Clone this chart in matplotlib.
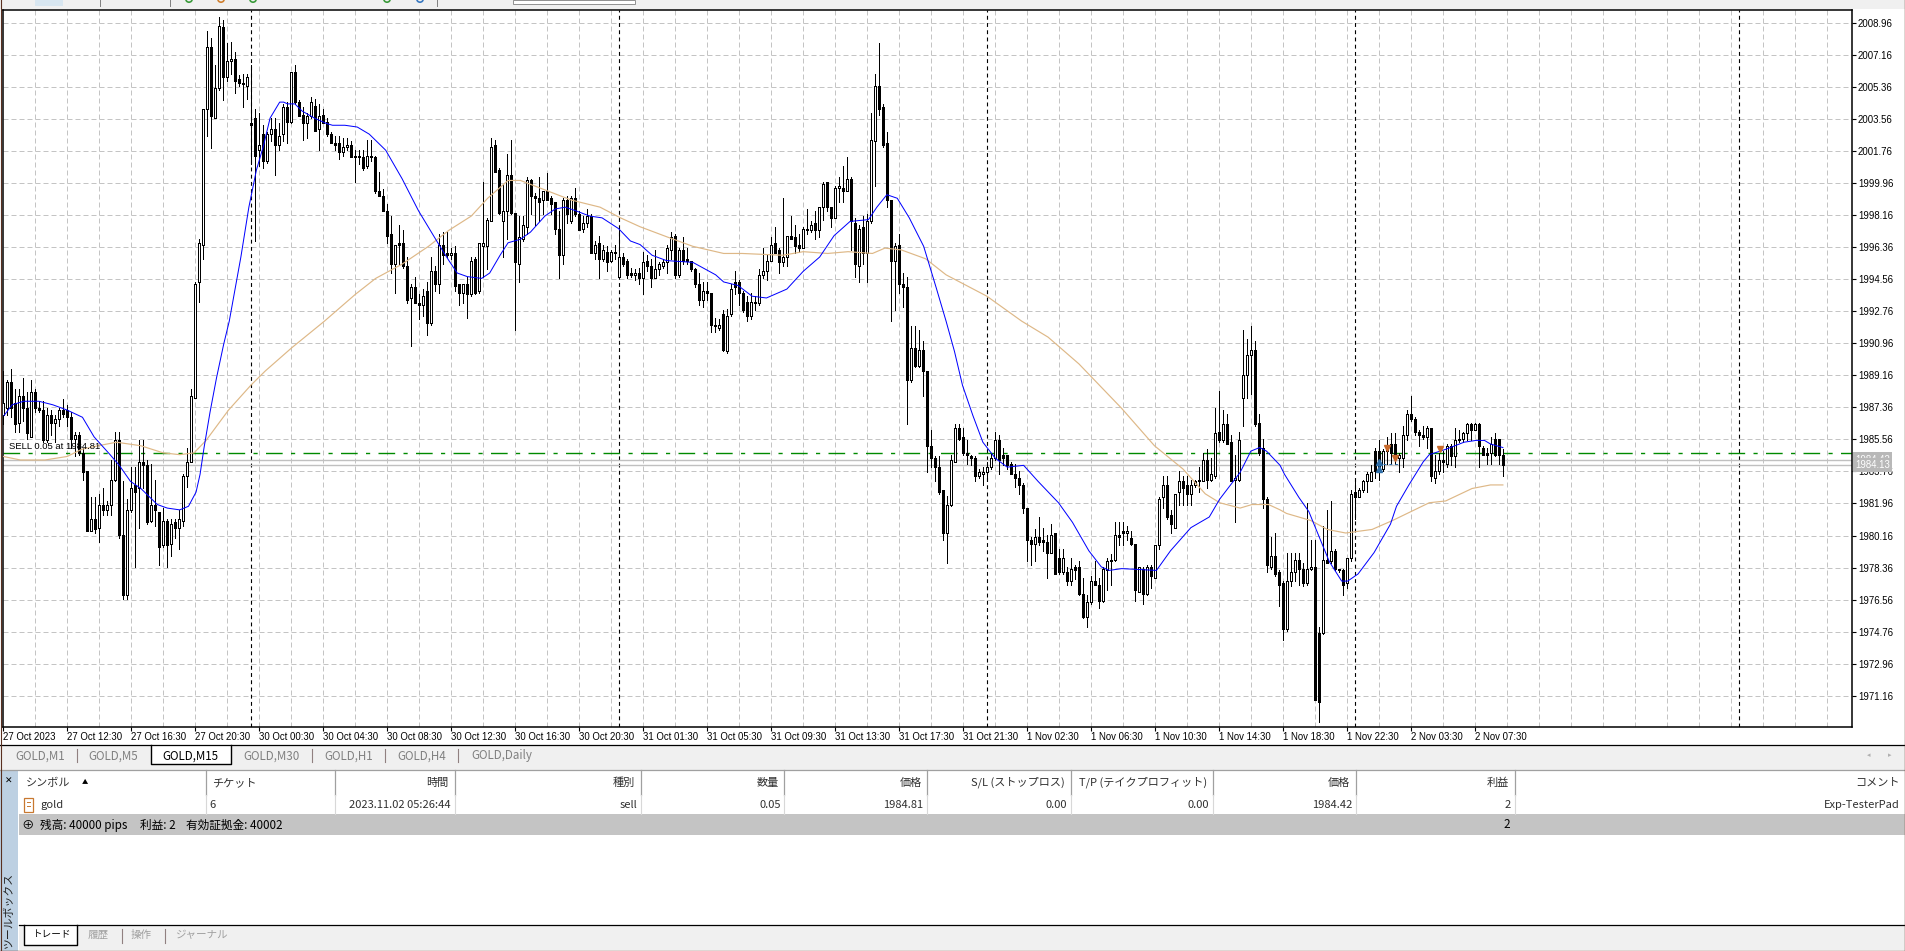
import numpy as np
import matplotlib
matplotlib.use("Agg")
import matplotlib.pyplot as plt
from matplotlib.patches import Rectangle, Circle

plt.rcParams['font.family'] = ['Noto Sans CJK JP', 'DejaVu Sans']

W, H = 1906, 951
CHART_L, CHART_R, CHART_T, CHART_B = 3, 1852, 10, 727

# M15 candles
opens = [
1986.9,1987.3,1988.8,1987.6,1986.5,1988.0,1987.3,1985.7,1988.2,1987.3,
1987.2,1985.5,1986.9,1986.5,1986.7,1987.2,1987.2,1986.8,1985.6,1985.8,
1984.8,1983.8,1980.4,1981.1,1980.6,1981.9,1981.6,1981.9,1983.3,1985.5,
1980.2,1976.8,1981.6,1983.0,1982.8,1984.3,1984.1,1981.0,1981.9,1981.5,
1979.6,1981.0,1979.7,1980.9,1980.6,1981.0,1983.5,1984.3,1987.9,1994.4,
1996.5,2004.1,2007.6,2003.6,2005.3,2008.7,2005.9,2006.8,2006.9,2005.8,
2005.6,2005.4,2003.3,2003.6,2001.8,2002.7,2001.2,2002.7,2003.0,2002.1,
2002.7,2004.2,2003.4,2006.2,2004.5,2003.8,2003.3,2003.7,2004.3,2003.0,
2003.8,2003.4,2002.7,2002.2,2002.2,2001.7,2002.0,2002.1,2001.5,2001.5,
2001.4,2000.9,2001.4,2001.4,1999.5,1999.2,1998.4,1997.1,1995.4,1996.6,
1996.6,1995.3,1993.5,1994.1,1993.2,1993.1,1993.9,1992.1,1995.0,1994.3,
1996.5,1996.0,1995.9,1996.0,1994.3,1993.8,1994.3,1993.7,1995.7,1993.9,
1996.4,1996.4,1997.8,2002.1,2000.7,1997.8,1998.4,2000.4,1998.3,1995.4,
1996.8,1997.5,2000.1,1999.2,1999.1,1999.0,1999.5,1999.1,1998.9,1997.4,
1995.9,1999.0,1997.8,1999.1,1998.2,1997.4,1997.7,1998.1,1996.0,1996.6,
1995.7,1996.1,1995.6,1996.1,1994.7,1995.8,1995.6,1994.9,1994.8,1994.9,
1994.6,1995.6,1995.3,1994.6,1995.1,1995.3,1995.5,1996.2,1997.0,1994.8,
1996.2,1995.7,1995.6,1995.1,1994.3,1993.4,1993.9,1993.8,1992.0,1991.8,
1992.6,1990.5,1992.6,1994.4,1994.4,1993.8,1993.3,1992.5,1993.3,1993.2,
1994.8,1995.0,1995.6,1996.6,1996.2,1995.5,1995.8,1997.0,1996.9,1996.5,
1996.3,1997.4,1997.3,1997.7,1997.3,1998.6,2000.0,1998.6,1998.0,1999.7,
1999.7,1999.5,2000.2,1997.7,1995.3,1997.5,1996.0,1997.8,2002.3,2005.4,
2004.2,2002.2,1999.0,1995.6,1996.5,1994.3,1994.1,1988.9,1990.7,1989.7,
1990.6,1989.4,1985.2,1984.5,1984.0,1982.7,1980.3,1981.9,1984.3,1986.2,
1985.7,1984.8,1984.6,1984.5,1983.5,1983.6,1983.7,1984.0,1984.5,1985.5,
1984.7,1984.7,1984.2,1983.6,1983.4,1983.0,1981.7,1979.9,1979.7,1980.1,
1979.9,1979.8,1979.2,1980.3,1978.9,1978.1,1978.1,1977.6,1978.4,1978.4,
1976.9,1975.6,1976.4,1977.6,1977.4,1976.5,1978.2,1978.7,1978.8,1980.2,
1980.4,1980.3,1980.0,1979.7,1977.0,1978.3,1976.9,1978.4,1977.8,1979.6,
1982.3,1983.0,1981.3,1980.6,1982.6,1983.2,1983.0,1982.5,1983.0,1983.3,
1983.2,1984.4,1983.3,1983.5,1986.0,1985.5,1986.4,1985.4,1983.3,1983.3,
1987.9,1989.2,1990.3,1990.6,1986.5,1985.1,1982.2,1978.4,1979.0,1978.1,
1977.5,1974.9,1977.6,1978.1,1978.8,1978.3,1977.5,1978.3,1978.4,1974.7,
1974.7,1978.8,1978.7,1979.3,1978.3,1978.2,1977.5,1978.9,1982.6,1982.3,
1982.7,1983.2,1983.2,1984.9,1984.9,1983.9,1984.9,1985.3,1985.3,1984.5,
1984.5,1985.8,1987.0,1986.7,1986.0,1985.8,1985.7,1986.2,1983.4,1983.8,
1984.4,1984.2,1985.2,1984.6,1985.6,1985.6,1985.9,1986.4,1986.1,1986.4,
1985.1,1984.8,1984.8,1985.6,1985.6,1984.7]
highs = [
1989.4,1988.9,1989.5,1988.4,1988.4,1989.0,1988.2,1988.9,1988.4,1987.7,
1987.7,1987.3,1987.2,1986.9,1987.3,1987.8,1987.5,1987.1,1986.0,1986.0,
1985.1,1983.8,1982.3,1982.3,1982.5,1982.8,1982.1,1984.4,1986.0,1986.0,
1983.2,1982.2,1984.0,1984.0,1985.5,1985.5,1984.4,1984.2,1983.3,1981.5,
1981.7,1981.1,1981.1,1981.1,1981.6,1983.6,1985.1,1988.4,1994.4,1996.8,
2004.1,2008.5,2008.1,2006.6,2009.3,2009.1,2007.8,2007.9,2007.3,2006.0,
2006.1,2006.1,2006.6,2004.1,2003.9,2003.2,2002.8,2003.6,2003.6,2003.3,
2004.4,2004.5,2006.2,2006.6,2004.6,2004.2,2003.9,2004.8,2004.7,2004.4,
2004.1,2003.6,2002.8,2002.6,2002.6,2002.5,2002.5,2002.3,2001.8,2001.8,
2001.8,2002.4,2002.4,2001.5,2000.6,1999.6,1998.8,1998.1,1996.5,1997.6,
1997.3,1995.8,1994.3,1994.7,1993.7,1994.0,1994.4,1995.8,1995.3,1997.1,
1997.2,1997.2,1996.3,1996.4,1994.3,1994.3,1994.7,1995.8,1995.8,1996.6,
2000.0,1998.0,2002.5,2002.4,2000.8,1999.9,2001.6,2002.4,1998.3,1998.1,
1998.1,2000.3,2000.2,1999.4,2000.3,1999.5,2000.5,1999.2,1998.9,1998.4,
1999.1,1999.2,1999.2,1999.7,1998.4,1998.1,1998.5,1998.2,1996.7,1997.0,
1996.5,1996.4,1996.2,1996.5,1997.3,1996.0,1995.7,1995.2,1995.1,1995.2,
1996.1,1995.9,1995.7,1996.2,1995.5,1995.7,1996.5,1997.2,1997.1,1996.3,
1996.9,1996.3,1995.6,1995.2,1994.9,1994.4,1994.4,1993.8,1992.4,1992.3,
1992.8,1992.9,1994.3,1995.0,1994.5,1993.9,1993.6,1993.8,1993.6,1995.1,
1996.3,1995.9,1996.9,1997.5,1996.3,1999.1,1997.0,1998.1,1997.6,1997.1,
1997.5,1998.5,1997.8,1998.4,1998.6,2000.0,2000.0,1998.6,1999.8,2000.3,
2000.9,2001.4,2000.3,1998.0,1997.6,1998.1,1998.2,2003.9,2006.1,2007.8,
2004.4,2002.8,1999.0,1996.6,1997.1,1994.9,1994.7,1991.9,1991.9,1991.7,
1991.1,1989.4,1986.1,1984.6,1984.6,1982.7,1982.4,1984.7,1986.4,1986.4,
1986.2,1985.5,1984.7,1984.6,1983.9,1984.0,1984.3,1984.8,1986.0,1985.8,
1985.1,1984.7,1984.3,1984.2,1983.8,1983.1,1981.7,1980.1,1980.5,1981.2,
1980.6,1980.2,1980.8,1980.3,1979.4,1979.4,1978.4,1978.9,1978.5,1978.7,
1977.8,1976.8,1977.9,1978.7,1977.8,1978.4,1978.9,1979.1,1980.9,1980.9,
1980.9,1980.7,1980.4,1979.7,1978.4,1978.4,1978.5,1978.5,1979.6,1982.3,
1983.5,1983.5,1981.6,1982.5,1983.8,1983.5,1983.5,1983.3,1983.3,1984.0,
1984.8,1985.0,1984.5,1987.3,1988.3,1987.2,1987.0,1985.8,1984.7,1986.0,
1991.7,1991.2,1991.9,1991.1,1987.0,1985.6,1982.3,1980.1,1980.3,1978.2,
1977.6,1979.2,1979.2,1979.2,1979.2,1978.6,1982.0,1979.9,1979.9,1975.0,
1980.7,1981.6,1982.1,1979.4,1978.3,1978.3,1978.9,1982.7,1983.3,1982.8,
1983.3,1983.7,1984.1,1985.1,1985.5,1985.0,1985.7,1985.9,1985.9,1984.8,
1986.3,1987.2,1988.0,1986.8,1986.1,1986.3,1986.3,1986.2,1984.7,1984.8,
1984.9,1985.3,1985.3,1986.2,1986.1,1986.0,1986.5,1986.5,1986.5,1986.5,
1985.2,1985.1,1985.7,1985.9,1985.6,1985.0]
lows = [
1986.4,1986.9,1986.8,1986.0,1986.0,1986.6,1985.6,1985.7,1987.1,1987.1,
1985.4,1985.4,1985.8,1985.4,1986.3,1986.8,1986.3,1985.1,1984.6,1984.7,
1983.3,1980.4,1980.4,1980.3,1979.8,1981.3,1981.3,1981.3,1983.2,1980.0,
1976.6,1976.6,1981.5,1978.4,1980.6,1982.8,1980.8,1980.9,1980.7,1978.5,
1979.5,1978.4,1979.0,1980.0,1979.4,1980.7,1982.9,1984.3,1987.9,1993.3,
1995.7,2002.6,2001.9,2003.6,2005.2,2004.6,2005.7,2006.1,2005.0,2005.4,
2004.2,2004.7,2001.0,1996.7,2000.9,2000.8,2001.1,2002.3,2000.4,2001.8,
2002.3,2002.2,2003.3,2004.4,2003.7,2002.4,2002.5,2003.6,2002.9,2001.8,
2003.3,2002.6,2002.2,2001.8,2001.3,2001.5,2001.8,2001.4,2000.0,2001.0,
2000.7,2000.8,2001.2,1999.4,1999.2,1998.4,1996.6,1994.9,1993.8,1995.4,
1995.2,1993.2,1990.8,1993.2,1992.3,1992.5,1991.4,1992.0,1993.9,1993.8,
1995.4,1995.8,1995.7,1993.9,1993.1,1993.2,1992.4,1993.6,1993.7,1993.8,
1994.7,1995.1,1997.8,2000.6,1998.2,1995.8,1996.8,1998.2,1991.7,1994.4,
1996.7,1997.1,1998.2,1997.6,1997.8,1998.2,1999.0,1998.2,1997.1,1994.6,
1995.4,1997.7,1997.7,1998.1,1997.3,1997.2,1997.5,1996.0,1995.7,1994.6,
1995.6,1995.0,1995.5,1995.7,1994.7,1995.3,1994.6,1994.7,1994.5,1994.3,
1993.7,1995.0,1994.1,1994.6,1994.8,1995.2,1994.9,1995.7,1994.6,1994.7,
1995.4,1995.4,1995.0,1994.1,1993.1,1993.0,1993.4,1991.6,1991.6,1991.7,
1990.5,1990.4,1992.5,1993.7,1993.1,1992.7,1992.2,1992.3,1992.8,1993.1,
1994.6,1994.5,1995.6,1996.0,1994.9,1995.3,1995.3,1996.8,1996.0,1996.1,
1996.3,1997.1,1997.2,1996.8,1996.9,1997.9,1998.4,1997.5,1998.0,1998.9,
1998.9,1999.5,1996.2,1994.7,1994.4,1995.4,1994.4,1997.7,1999.8,2003.8,
2002.0,1998.6,1992.2,1992.8,1993.8,1993.0,1986.4,1988.8,1989.6,1989.6,
1988.0,1983.7,1984.0,1983.2,1982.5,1979.9,1978.6,1981.8,1984.3,1985.5,
1984.7,1984.2,1984.1,1983.2,1983.4,1983.0,1983.2,1983.9,1984.4,1983.6,
1984.1,1983.9,1983.6,1982.9,1982.5,1981.4,1978.7,1978.5,1978.7,1979.6,
1979.3,1977.8,1979.2,1978.0,1978.0,1978.0,1977.4,1977.4,1977.7,1976.8,
1975.5,1975.0,1976.3,1977.4,1976.1,1976.4,1977.1,1977.4,1978.7,1979.6,
1979.6,1979.9,1979.6,1976.5,1977.0,1976.3,1976.8,1977.2,1977.8,1979.4,
1981.7,1981.1,1980.3,1980.6,1981.9,1981.9,1981.9,1981.9,1982.9,1982.6,
1983.2,1982.8,1983.2,1983.4,1985.4,1985.4,1985.3,1983.2,1980.9,1983.2,
1986.3,1987.9,1988.1,1986.3,1984.7,1981.7,1978.1,1978.3,1977.9,1976.2,
1974.3,1974.8,1977.3,1977.6,1977.4,1977.3,1977.4,1978.2,1970.9,1969.7,
1974.6,1978.6,1978.6,1978.2,1978.1,1976.8,1977.2,1978.7,1981.1,1982.3,
1982.6,1982.6,1983.2,1983.4,1983.3,1983.8,1984.2,1984.2,1984.2,1983.7,
1984.0,1985.5,1986.6,1985.8,1985.2,1985.6,1985.1,1983.2,1983.1,1983.6,
1983.7,1984.0,1984.1,1984.0,1985.4,1985.4,1985.5,1985.5,1986.1,1984.0,
1984.7,1984.2,1984.2,1984.6,1984.2,1983.5]
closes = [
1987.6,1988.8,1987.3,1986.4,1988.0,1987.3,1985.9,1988.2,1987.3,1987.2,
1985.5,1986.9,1986.5,1986.7,1987.2,1987.0,1986.8,1985.6,1985.8,1984.8,
1983.7,1980.4,1981.1,1980.5,1981.9,1981.6,1981.9,1983.3,1985.5,1980.2,
1976.8,1981.6,1982.8,1982.6,1984.3,1984.1,1980.9,1981.9,1981.6,1979.5,
1981.0,1979.6,1980.8,1980.6,1981.1,1983.5,1984.3,1988.0,1994.3,1996.6,
2004.1,2007.6,2003.7,2005.3,2008.8,2005.9,2006.8,2006.9,2005.7,2005.6,
2005.5,2005.9,2003.2,2001.5,2002.1,2001.2,2002.7,2003.0,2002.1,2002.6,
2004.2,2003.4,2006.2,2004.5,2003.7,2003.3,2003.7,2004.5,2002.9,2003.7,
2003.3,2002.7,2002.2,2002.1,2001.7,2002.0,2002.1,2001.4,2001.4,2001.4,
2000.8,2001.5,2001.5,1999.5,1999.2,1998.4,1997.0,1995.4,1996.5,1996.5,
1995.3,1993.4,1994.1,1993.2,1993.1,1993.6,1992.1,1995.0,1994.3,1996.5,
1995.9,1995.9,1996.0,1994.2,1993.8,1994.3,1993.7,1995.6,1993.8,1996.6,
1996.6,1997.9,2002.0,2000.6,1998.3,1998.4,2000.4,1998.3,1995.5,1996.9,
1997.6,2000.1,1999.2,1999.1,1998.9,1999.5,1999.0,1998.8,1997.4,1995.9,
1999.0,1998.2,1999.1,1998.2,1997.3,1997.7,1998.1,1996.0,1996.5,1995.7,
1996.2,1995.5,1996.1,1996.0,1995.8,1995.4,1994.8,1994.8,1994.9,1994.6,
1995.5,1995.3,1994.6,1995.1,1995.4,1995.5,1996.3,1996.9,1994.8,1996.2,
1995.6,1995.6,1995.1,1994.3,1993.4,1993.9,1993.8,1992.0,1991.9,1992.0,
1990.6,1992.5,1994.0,1994.1,1993.8,1992.8,1992.5,1993.3,1993.2,1994.8,
1995.0,1995.6,1996.5,1996.0,1995.5,1995.8,1997.0,1996.8,1996.4,1996.3,
1997.4,1997.3,1997.6,1997.3,1998.6,1999.9,1998.6,1998.0,1999.7,1999.8,
1999.5,2000.2,1997.8,1995.4,1997.4,1996.0,1997.8,2002.4,2005.4,2004.1,
2002.1,1999.0,1995.6,1996.4,1994.3,1994.1,1988.9,1990.7,1989.7,1990.6,
1989.4,1985.2,1984.5,1984.0,1982.6,1980.3,1981.9,1984.4,1986.2,1985.6,
1984.8,1984.7,1984.5,1983.5,1983.7,1983.7,1984.0,1984.5,1985.5,1984.4,
1984.5,1984.1,1983.6,1983.4,1983.0,1981.7,1979.9,1979.7,1980.1,1979.8,
1979.8,1979.2,1980.2,1978.0,1978.1,1978.9,1977.6,1978.3,1978.2,1976.9,
1975.6,1976.4,1977.6,1977.4,1976.5,1978.3,1978.7,1978.8,1980.2,1980.1,
1980.3,1980.4,1979.7,1977.1,1978.4,1976.9,1978.4,1977.9,1979.6,1982.2,
1983.0,1981.2,1980.8,1982.5,1983.2,1982.8,1982.5,1983.0,1983.2,1983.2,
1984.4,1983.3,1983.6,1985.9,1985.5,1986.4,1985.3,1983.2,1983.4,1985.5,
1989.2,1990.3,1990.6,1986.4,1984.8,1982.2,1978.5,1979.0,1978.0,1977.4,
1974.9,1977.6,1978.1,1978.8,1978.3,1977.5,1978.3,1978.4,1970.9,1970.8,
1978.8,1978.6,1979.3,1978.3,1978.2,1977.4,1978.9,1982.5,1982.3,1982.7,
1983.2,1983.6,1983.7,1983.8,1983.9,1984.9,1985.1,1984.8,1984.5,1984.7,
1985.8,1987.0,1986.7,1986.0,1985.8,1985.7,1986.2,1983.5,1983.8,1984.4,
1984.3,1985.2,1984.6,1985.5,1985.5,1985.9,1986.4,1986.1,1986.4,1985.2,
1984.7,1984.7,1985.3,1984.7,1984.7,1984.13]

fast_bar = [0.2,2.2,5.1,8.9,12.4,16,19.8,22.7,26.7,29,31.8,34.4,38.5,41,44.1,46.3,48.2,49.2,50.2,51.7,53.3,55.1,56.5,
            59.4,61.4,63.3,65,66.7,69.1,70.1,71.1,72.9,74.7,77.8,80.8,82.3,85.4,88.5,91.5,95.6,99.7,103.8,108.9,111.4,113.5,
            116,119.6,121.6,124.2,126.2,129.3,131.8,135.4,138,140.5,143.1,146.6,149.7,153.8,156.8,159.2,
            162.2,165.8,172.4,178.1,180.1,183.7,187.2,190.8,195.9,200,204.1,207.7,211.7,216.3,218.4,220.9,223.5,226.5,230.1,233.2,235.7,
            237.8,239.8,242.4,244.9,248,251,255.1,258.7,263.8,267.3,271.4,274.5,276.5,279.6,288.3,291.8,296.9,301.5,304.1,309.2,311.9,314.1,315.8,319.2,
            320.3,323.9,326.4,328.4,331.5,334.6,336.1,338.7,342.7,346.8,348.3,351.4,355,356.5,360.6,365.2,368.2,370.3,371.8,374.9]
fast_ma = [1986.9,1987.5,1987.7,1987.7,1987.5,1987.2,1986.8,1985.7,1984.7,1984.1,1983.2,1982.8,1981.9,1981.7,1981.6,1981.8,1982.6,1983.6,1985.1,1987.1,1989.0,1990.9,1992.2,
           1995.8,1998.6,2000.7,2002.0,2003.6,2004.5,2004.5,2004.4,2004.4,2004.0,2003.6,2003.3,2003.2,2003.2,2003.1,2002.7,2001.8,2000.2,1998.4,1996.5,1995.6,1994.9,
           1994.7,1994.6,1994.9,1995.9,1996.6,1996.8,1997.2,1998.1,1998.5,1998.6,1998.4,1998.1,1998.0,1997.4,1996.7,1996.5,
           1995.9,1995.6,1995.5,1994.8,1994.4,1994.2,1993.6,1993.5,1994.0,1995.0,1995.8,1997.0,1997.8,1997.9,1998.6,1999.3,1999.1,1998.0,1996.4,1994.1,1992.2,
           1990.5,1988.6,1986.9,1985.4,1984.5,1984.0,1984.1,1983.2,1982.0,1980.9,1979.3,1978.4,1978.2,1978.3,1978.2,1979.3,1980.6,1981.2,1982.2,1983.7,1984.9,1985.1,1984.9,1984.1,
           1983.6,1982.3,1981.5,1980.4,1978.7,1977.6,1977.6,1978.0,1979.2,1980.8,1981.8,1983.0,1984.3,1984.7,1985.0,1985.4,1985.5,1985.5,1985.3,1985.1]
slow_bar = [0,4.3,10.4,16,19.6,23.7,28.3,34.4,40,44.1,47.7,50.7,56.3,61.9,65.5,72.1,80.3,
            88,93.1,99.7,106.3,111.4,117,121.1,126.2,129.3,133.9,142,149.2,154.3,159.2,
            166.3,172.4,180.1,184.7,194.9,200,206.1,211.2,217.3,220.4,224.5,230.6,235.7,245.9,254.6,
            261.2,268.9,279.6,287.8,294.9,300.5,304.1,309.2,312.2,316.3,319.2,
            320.8,326.9,331,335.6,342.2,347.3,356.5,360.6,367.2,371.8,374.9]
slow_ma = [1984.6,1984.4,1984.4,1984.6,1985.0,1985.2,1985.4,1985.2,1984.8,1984.7,1984.8,1985.5,1987.2,1988.6,1989.4,1990.7,1992.2,
           1993.7,1994.6,1995.4,1996.4,1997.3,1998.1,1999.1,2000.1,2000.1,1999.7,1999.0,1998.6,1998.0,1997.5,
           1996.9,1996.4,1996.0,1996.0,1995.9,1996.1,1996.0,1996.1,1996.0,1996.3,1996.2,1995.7,1994.8,1993.6,1992.2,
           1991.3,1989.8,1987.3,1985.2,1983.9,1982.5,1982.0,1981.7,1981.9,1981.9,1981.6,
           1981.4,1981.0,1980.5,1980.3,1980.5,1981.0,1982.0,1982.1,1982.8,1983.0,1983.0]

price_ticks = [2008.96,2007.16,2005.36,2003.56,2001.76,1999.96,1998.16,1996.36,1994.56,1992.76,1990.96,
               1989.16,1987.36,1985.56,1983.76,1981.96,1980.16,1978.36,1976.56,1974.76,1972.96,1971.16]
time_labels = ['27 Oct 2023','27 Oct 12:30','27 Oct 16:30','27 Oct 20:30','30 Oct 00:30','30 Oct 04:30',
               '30 Oct 08:30','30 Oct 12:30','30 Oct 16:30','30 Oct 20:30','31 Oct 01:30','31 Oct 05:30',
               '31 Oct 09:30','31 Oct 13:30','31 Oct 17:30','31 Oct 21:30','1 Nov 02:30','1 Nov 06:30',
               '1 Nov 10:30','1 Nov 14:30','1 Nov 18:30','1 Nov 22:30','2 Nov 03:30','2 Nov 07:30']
day_breaks = [62,154,246,338,434]
sell_bars, sell_prices = [346,348,359.1], [1985.1,1984.5,1985.0]
buy_bars, buy_prices = [344,344], [1984.3,1983.9]
entry_price, bid_price, ask_price = 1984.81, 1984.42, 1984.13

tabs = ['GOLD,M1','GOLD,M5','GOLD,M15','GOLD,M30','GOLD,H1','GOLD,H4','GOLD,Daily']
tab_x = [15,88,162,243,324,397,471]
tab_seps = [77.5,312,385,458]
col_seps = [206,334.7,454.7,641,784.5,927.3,1070.6,1213.5,1356.2,1514.6]
headers = [('時間',448),('種別',635),('数量',778.8),('価格',921.6),('S/L (ストップロス)',1064.5),
           ('T/P (テイクプロフィット)',1207),('価格',1350.5),('利益',1509),('コメント',1899.5)]
row_vals = [('2023.11.02 05:26:44',451),('sell',637.6),('0.05',780.8),('1984.81',923),('0.00',1067),
            ('0.00',1209),('1984.42',1352.5),('2',1511),('Exp-TesterPad',1900)]
summary = [('残高: 40000 pips',40),('利益: 2',139.6),('有効証拠金: 40002',185.7)]
bottom_tabs = [('履歴',88),('操作',131),('ジャーナル',175)]

fig = plt.figure(figsize=(W/100, H/100), dpi=100, facecolor='white')

# window chrome, in screen pixels
ui = fig.add_axes([0,0,1,1], zorder=0)
ui.set_xlim(0,W); ui.set_ylim(H,0); ui.axis('off')
def rect(x0,y0,x1,y1,fc,ec='none',lw=0):
    ui.add_patch(Rectangle((x0,y0),x1-x0,y1-y0,fc=fc,ec=ec,lw=lw))
def label(x,y,s,size=7.6,color='#303030',ha='left',**kw):
    ui.text(x,y,s,fontsize=size,color=color,ha=ha,va='center',**kw)

rect(0,0,W,8.5,'#f0f0f0')
rect(35,0,63,6,'#d8e6f0')
rect(513,0,635,4,'white','#909090',0.7)
for x in [100,170,437]:
    ui.plot([x,x],[0,6],color='#808080',lw=0.7)
for x,c in [(189,'#3a9a3a'),(221,'#d08030'),(253,'#3a9a3a'),(387,'#3a9a3a'),(420,'#3878c0')]:
    ui.add_patch(Circle((x,-1),3.2,fc='none',ec=c,lw=1.2,clip_on=True))

# tab strip
rect(0,745,W,770,'#f0f0f0')
ui.plot([0,W],[745,745],color='black',lw=0.9)
ui.plot([0,W],[770,770],color='#a0a0a0',lw=0.9)
rect(151,745,231,763.5,'white')
ui.plot([151,151,231,231],[745,763.5,763.5,745],color='black',lw=1)
for name,x in zip(tabs,tab_x):
    label(x,755.7,name,size=8.4,color='black' if name=='GOLD,M15' else '#808080')
for x in tab_seps:
    ui.plot([x,x],[749,762],color='#908080',lw=0.8)
label(1869,755,'◂',size=5,color='#b0b0b0',ha='center')
label(1890,755,'▸',size=5,color='#b0b0b0',ha='center')

# toolbox panel
rect(0,770,18,951,'#bdd0e2')
label(9,781,'✕',size=6.5,color='black',ha='center')
ui.text(9,948,'ツールボックス',rotation=90,fontsize=7.8,color='#202020',ha='center',va='bottom')
for x in col_seps:
    ui.plot([x,x],[770,795],color='#a0a0a0',lw=0.9)
    ui.plot([x,x],[795,814],color='#d8d8d8',lw=0.8)
label(26,782.7,'シンボル',size=8)
label(85,782,'▲',size=4.5,color='black',ha='center')
label(212,782.7,'チケット',size=8)
for s,x in headers:
    label(x,782.7,s,ha='right',size=8)
rect(24,798,33,812,'white','#c87830',0.9)
ui.plot([27,30],[802,802],color='#c87830',lw=0.7)
ui.plot([27,30],[806,806],color='#c87830',lw=0.7)
label(40,805,'gold',size=8)
label(209,805,'6',size=8)
for s,x in row_vals:
    label(x,805,s,ha='right',size=8)
rect(19,814,W,835,'#c4c4c4')
label(28,825,'⊕',size=9,color='black',ha='center')
for s,x in summary:
    label(x,825,s,size=8.4,color='black')
label(1509.7,825,'2',size=8.4,color='black',ha='right')

# bottom tabs
rect(19,925,W,950,'#f0f0f0')
ui.plot([19,W],[925,925],color='black',lw=0.9)
rect(24,925,77.5,945,'white')
ui.plot([24,24,77.5,77.5],[925,945,945,925],color='black',lw=1)
label(33,935,'トレード',size=6.9,color='black')
for s,x in bottom_tabs:
    label(x,935,s,size=7.6,color='#a0a0a0')
for x in [121.6,165]:
    ui.plot([x,x],[929,943],color='#908080',lw=0.8)

# outer brown frame
ui.plot([0.5,0.5],[0,H],color='#5a3020',lw=0.8)
ui.plot([W-0.5,W-0.5],[0,H],color='#5a3020',lw=1)
ui.plot([0,W],[H-0.5,H-0.5],color='#5a3020',lw=1)

# chart
ax = fig.add_axes([CHART_L/W, 1-CHART_B/H, (CHART_R-CHART_L)/W, (CHART_B-CHART_T)/H], zorder=1)
px_per_bar = 4.0
px_per_price = 32.05/1.8
ax.set_xlim((CHART_L-3.27)/px_per_bar, (CHART_R-3.27)/px_per_bar)
ax.set_ylim(2008.96-(CHART_B-22.7)/px_per_price, 2008.96+(22.7-CHART_T)/px_per_price)
for s in ax.spines.values():
    s.set_linewidth(1.1)

grid_style = dict(color='#c4c4c4', lw=0.72, ls=(0,(5,3)), zorder=1)
for p in price_ticks:
    ax.axhline(p, **grid_style)
for b in np.arange(8, 463, 8):
    ax.axvline(b, **grid_style)
for b in day_breaks:
    ax.axvline(b, color='black', lw=0.8, ls=(0,(3.5,3)), zorder=1.5)

ax.axhline(ask_price, color='#c0c0c0', lw=1.0, zorder=1.6)
ax.axhline(bid_price, color='#c0c0c0', lw=1.0, zorder=1.6)
ax.axhline(entry_price, color='#008a00', lw=1.0, ls=(0,(12,6,3,6)), zorder=1.7)

bars = np.arange(len(closes))
o, h, l, c = map(np.array, (opens, highs, lows, closes))
ax.vlines(bars, l, h, color='black', lw=0.72, zorder=2, antialiased=False)
up = c >= o
ax.bar(bars[up], (c-o)[up], bottom=o[up], width=0.56, facecolor='white', edgecolor='black', lw=0.7, zorder=3, antialiased=False)
ax.bar(bars[~up], (c-o)[~up], bottom=o[~up], width=0.56, facecolor='black', edgecolor='black', lw=0.7, zorder=3, antialiased=False)

ax.plot(slow_bar, slow_ma, color='#deb887', lw=0.85, zorder=4)
ax.plot(fast_bar, fast_ma, color='#0000ff', lw=0.72, zorder=5)

ax.plot(sell_bars, sell_prices, ls='none', marker='v', ms=5, color='#c86a2c', zorder=6)
ax.plot(buy_bars, buy_prices, ls='none', marker='^', ms=5, color='#2e6ea8', zorder=6)
ax.plot([345,349],[1984.2,1984.2], color='#2e6ea8', lw=0.7, ls=(0,(3,3)), zorder=6)

ax.text(1.5, 1985.15, 'SELL 0.05 at 1984.81', fontsize=6.8, family='Liberation Sans', va='center', color='black', zorder=6)

ax.yaxis.tick_right()
ax.set_yticks(price_ticks)
ax.set_yticklabels([f'{p:.2f}' for p in price_ticks], fontsize=6.9, family='Liberation Sans')
ax.set_xticks(np.arange(len(time_labels))*16)
ax.set_xticklabels(time_labels, fontsize=6.9, family='Liberation Sans', ha='left')
ax.tick_params(axis='y', length=3.2, width=0.8, pad=1)
ax.tick_params(axis='x', length=3.2, width=0.8, pad=0.5)

# bid / ask price tags sit over the axis
trans = ax.get_yaxis_transform()
for p, s in [(bid_price,'1984.42'),(ask_price,'1984.13')]:
    ax.text(1.0018, p, s, transform=trans, fontsize=6.9, family='Liberation Sans', color='white', va='center', ha='left',
            clip_on=False, zorder=8, bbox=dict(fc='#b8b8b8', ec='none', pad=1.6))

fig.savefig('out.png', dpi=100)
